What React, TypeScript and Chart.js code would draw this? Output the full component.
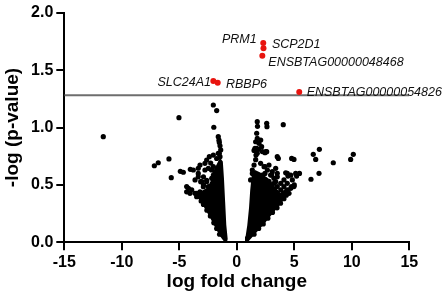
import React, { useEffect, useRef } from "react";
import { Chart, registerables } from "chart.js";

Chart.register(...registerables);

// ---- data ----
const xTickValues = [-15, -10, -5, 0, 5, 10, 15];
const yTickValues = [0, 0.5, 1.0, 1.5, 2.0];

const threshold = 1.28;

const geneNames = ["PRM1", "SCP2D1", "ENSBTAG00000048468", "SLC24A1", "RBBP6", "ENSBTAG00000054826"];
const geneLogFC = [2.3, 2.32, 2.22, -2.04, -1.66, 5.43];
const geneNegLogP = [1.735, 1.69, 1.625, 1.405, 1.39, 1.31];

// dense core of each cone (outline of the solid black area)
const leftCore: [number, number][] = [
  [-0.95, 0], [-1.4, 0.06], [-1.8, 0.13], [-2.2, 0.21], [-2.6, 0.28], [-2.95, 0.34], [-3.3, 0.4],
  [-3.0, 0.44], [-2.5, 0.47], [-2.2, 0.53], [-1.95, 0.6], [-1.75, 0.66], [-1.45, 0.72], [-1.3, 0.7],
  [-1.2, 0.55], [-1.1, 0.35], [-1.0, 0.15], [-0.88, 0.03], [-0.95, 0],
];
const rightCore: [number, number][] = [
  [0.8, 0], [1.0, 0.02], [1.45, 0.07], [1.9, 0.12], [2.35, 0.17], [2.75, 0.22], [3.1, 0.26],
  [3.5, 0.31], [3.85, 0.35], [4.1, 0.39], [3.8, 0.42], [3.4, 0.46], [3.1, 0.5], [2.8, 0.54],
  [2.4, 0.57], [2.0, 0.6], [1.6, 0.62], [1.4, 0.6], [1.25, 0.45], [1.15, 0.3], [1.0, 0.15],
  [0.85, 0.05], [0.8, 0],
];

// individual non-significant genes (down-regulated side)
const leftGenes: [number, number][] = [
  [-11.61, 0.92], [-7.17, 0.667], [-6.83, 0.693], [-5.9, 0.726], [-5.7, 0.563], [-5.03, 1.086],
  [-4.91, 0.618], [-4.65, 0.61], [-4.04, 0.636], [-3.78, 0.63], [-2.04, 1.196], [-1.75, 1.147],
  [-2.0, 1.002], [-1.61, 0.92], [-1.55, 0.89], [-1.52, 0.87], [-1.46, 0.84], [-1.4, 0.805],
  [-1.52, 0.775], [-1.75, 0.73], [-2.04, 0.76], [-2.39, 0.746], [-2.62, 0.717], [-2.77, 0.688],
  [-3.2, 0.673], [-3.35, 0.645], [-3.35, 0.6], [-3.05, 0.528], [-2.9, 0.5], [-3.35, 0.57],
  [-3.63, 0.543], [-2.18, 0.557], [-2.04, 0.586], [-1.9, 0.615], [-1.7, 0.644], [-1.46, 0.673],
  [-1.6, 0.57], [-2.2, 0.63], [-2.04, 0.66], [-2.27, 0.69], [-2.47, 0.644], [-2.77, 0.63],
  [-2.9, 0.57], [-2.62, 0.528], [-2.47, 0.485], [-4.36, 0.485], [-4.2, 0.47], [-3.92, 0.456],
  [-3.49, 0.427], [-3.2, 0.397], [-2.9, 0.37], [-3.2, 0.44], [-2.77, 0.427], [-4.36, 0.44],
  [-4.07, 0.427], [-3.63, 0.427], [-3.49, 0.397], [-1.5, 0.07], [-1.75, 0.12], [-2.0, 0.17],
  [-2.3, 0.23], [-2.6, 0.28], [-2.9, 0.33], [-3.1, 0.36], [-3.4, 0.4], [-3.14, 0.528],
  [-2.91, 0.484], [-3.2, 0.412], [-2.62, 0.54], [-2.04, 0.57], [-1.46, 0.746], [-1.61, 0.775],
];

// individual non-significant genes (up-regulated side)
const rightGenes: [number, number][] = [
  [1.78, 1.051], [1.8, 1.01], [2.6, 1.036], [2.62, 1.007], [4.04, 1.025], [1.73, 0.95],
  [1.78, 0.905], [2.08, 0.891], [1.58, 0.819], [1.9, 0.81], [2.6, 0.789], [1.67, 0.76],
  [3.61, 0.731], [4.77, 0.731], [4.97, 0.722], [6.65, 0.766], [6.86, 0.722], [7.18, 0.81],
  [8.39, 0.693], [9.9, 0.722], [10.13, 0.766], [7.15, 0.601], [6.45, 0.549], [5.45, 0.6],
  [5.2, 0.577], [5.0, 0.5], [1.64, 0.876], [1.93, 0.862], [1.5, 0.8], [1.78, 0.775],
  [2.22, 0.79], [2.51, 0.79], [3.52, 0.746], [1.64, 0.72], [1.5, 0.673], [2.07, 0.688],
  [2.37, 0.659], [2.8, 0.673], [2.66, 0.63], [3.09, 0.615], [3.38, 0.644], [3.52, 0.601],
  [4.39, 0.6], [4.69, 0.585], [5.12, 0.6], [4.83, 0.543], [4.39, 0.514], [4.1, 0.543],
  [3.82, 0.514], [4.1, 0.485], [4.69, 0.47], [4.97, 0.485], [3.52, 0.57], [3.23, 0.557],
  [2.94, 0.586], [1.35, 0.63], [1.35, 0.6], [1.2, 0.543], [1.78, 0.57], [2.22, 0.586],
  [2.51, 0.543], [2.8, 0.53], [3.23, 0.514], [3.52, 0.485], [3.82, 0.456], [4.25, 0.441],
  [4.54, 0.427], [3.96, 0.413], [3.52, 0.397], [1.5, 0.07], [1.9, 0.12], [2.3, 0.16],
  [2.7, 0.21], [3.1, 0.26], [3.5, 0.3], [3.8, 0.34], [4.1, 0.38], [4.3, 0.41],
  [4.06, 0.427], [4.4, 0.456], [4.75, 0.485], [2.45, 0.66], [2.45, 0.6], [3.03, 0.586],
  [3.38, 0.528], [4.25, 0.606], [4.45, 0.577], [1.73, 0.818], [2.16, 0.833], [2.45, 0.78],
];

// ---- presentation ----
const FONT = '"Liberation Sans", Arial, Helvetica, sans-serif';
const labelPlacement: { dx: number; dy: number; align: CanvasTextAlign }[] = [
  { dx: -6.6, dy: -4, align: "right" },
  { dx: 8.4, dy: -3.3, align: "left" },
  { dx: 6, dy: 6.3, align: "left" },
  { dx: -2.3, dy: 1.5, align: "right" },
  { dx: 8.3, dy: 1.5, align: "left" },
  { dx: 7.4, dy: 1, align: "left" },
];

const toXY = (arr: [number, number][]) => arr.map(([x, y]) => ({ x, y }));

const geneLabelPlugin = {
  id: "geneLabels",
  afterDatasetsDraw(chart: any) {
    const { ctx, scales } = chart;
    const xs = scales.x;
    const ys = scales.y;
    ctx.save();
    ctx.font = `italic 12.5px ${FONT}`;
    ctx.fillStyle = "#111";
    ctx.textBaseline = "middle";
    geneNames.forEach((name, i) => {
      const px = xs.getPixelForValue(geneLogFC[i]);
      const py = ys.getPixelForValue(geneNegLogP[i]);
      const p = labelPlacement[i];
      ctx.textAlign = p.align;
      ctx.fillText(name, px + p.dx, py + p.dy);
    });
    ctx.restore();
  },
};

export default function App() {
  const canvasRef = useRef<HTMLCanvasElement | null>(null);

  useEffect(() => {
    if (!canvasRef.current) return;
    const chart = new Chart(canvasRef.current, {
      type: "scatter",
      data: {
        datasets: [
          {
            type: "line",
            label: "threshold",
            data: [
              { x: xTickValues[0], y: threshold },
              { x: xTickValues[xTickValues.length - 1], y: threshold },
            ],
            borderColor: "#6e6e6e",
            borderWidth: 2,
            pointRadius: 0,
            fill: false,
            order: 5,
          } as any,
          {
            type: "line",
            label: "down core",
            data: toXY(leftCore),
            borderColor: "#000",
            backgroundColor: "#000",
            borderWidth: 2,
            pointRadius: 0,
            fill: "shape",
            tension: 0,
            order: 4,
          } as any,
          {
            type: "line",
            label: "up core",
            data: toXY(rightCore),
            borderColor: "#000",
            backgroundColor: "#000",
            borderWidth: 2,
            pointRadius: 0,
            fill: "shape",
            tension: 0,
            order: 4,
          } as any,
          {
            label: "down",
            data: toXY(leftGenes),
            backgroundColor: "#000",
            borderWidth: 0,
            pointRadius: 2.6,
            order: 3,
          },
          {
            label: "up",
            data: toXY(rightGenes),
            backgroundColor: "#000",
            borderWidth: 0,
            pointRadius: 2.6,
            order: 3,
          },
          {
            label: "significant",
            data: geneNames.map((_, i) => ({ x: geneLogFC[i], y: geneNegLogP[i] })),
            backgroundColor: "#e8140f",
            borderWidth: 0,
            pointRadius: 3,
            order: 1,
          },
        ],
      },
      options: {
        animation: false,
        responsive: false,
        maintainAspectRatio: false,
        events: [],
        layout: { padding: { left: 0, right: 37.7, top: 12.7, bottom: 0 } },
        plugins: {
          legend: { display: false },
          tooltip: { enabled: false },
        },
        scales: {
          x: {
            type: "linear",
            min: -15,
            max: 15,
            afterBuildTicks: (scale: any) => {
              scale.ticks = xTickValues.map((v) => ({ value: v }));
            },
            afterFit: (scale: any) => {
              scale.height = 62.7;
            },
            ticks: {
              color: "#000",
              font: { family: FONT, size: 16, weight: "bold" },
              padding: 3,
              maxRotation: 0,
              callback: (v: any) => String(v),
            },
            grid: {
              display: true,
              drawOnChartArea: false,
              drawTicks: true,
              tickLength: 8,
              color: "#000",
              lineWidth: 2,
            },
            border: { display: true, color: "#000", width: 2 },
            title: {
              display: true,
              text: "log fold change",
              color: "#000",
              font: { family: FONT, size: 19, weight: "bold" },
              padding: { top: 0, bottom: 12 },
            },
          },
          y: {
            type: "linear",
            min: 0,
            max: 2,
            afterBuildTicks: (scale: any) => {
              scale.ticks = yTickValues.map((v) => ({ value: v }));
            },
            afterFit: (scale: any) => {
              scale.width = 64.3;
            },
            ticks: {
              color: "#000",
              font: { family: FONT, size: 16, weight: "bold" },
              padding: 3,
              callback: (v: any) => Number(v).toFixed(1),
            },
            grid: {
              display: true,
              drawOnChartArea: false,
              drawTicks: true,
              tickLength: 8,
              color: "#000",
              lineWidth: 2,
            },
            border: { display: true, color: "#000", width: 2 },
            title: {
              display: true,
              text: "-log (p-value)",
              color: "#000",
              font: { family: FONT, size: 19, weight: "bold" },
              padding: { top: 1, bottom: 0 },
            },
          },
        },
      } as any,
      plugins: [geneLabelPlugin],
    });
    return () => chart.destroy();
  }, []);

  return (
    <div style={{ position: "fixed", left: 0, top: 0, width: 447, height: 305, background: "#fff" }}>
      <canvas ref={canvasRef} width={447} height={305} style={{ display: "block", width: 447, height: 305 }} />
    </div>
  );
}
